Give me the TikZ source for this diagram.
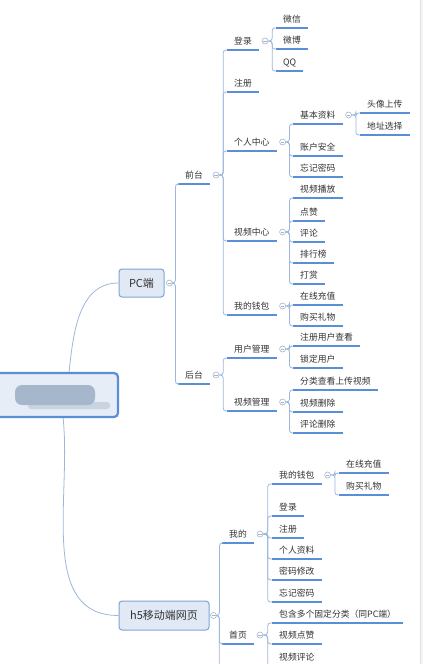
\documentclass[tikz,border=0pt]{standalone}
\usepackage{fontspec}
\usetikzlibrary{calc}
\newfontfamily\cjk{Noto Sans CJK SC}
\definecolor{uline}{HTML}{5A8FD8}
\definecolor{connc}{HTML}{9DB7DD}
\definecolor{txt}{HTML}{333333}
\definecolor{foldc}{HTML}{A3B5CC}
\definecolor{boxfill}{HTML}{E1E9F5}
\definecolor{boxline}{HTML}{7FA3D8}
\definecolor{rootline}{HTML}{5A8ED6}
\definecolor{rootfill}{HTML}{E6EDF7}
\definecolor{blobA}{HTML}{A6B6CB}
\definecolor{blobB}{HTML}{C9D4E2}
\tikzset{
 topic/.style={anchor=south west, inner xsep=7pt, inner ysep=0pt, text height=8pt, text depth=5pt,
   font=\cjk\fontsize{8.8}{10}\selectfont, text=txt,
   append after command={(\tikzlastnode.south west) edge[underl] (\tikzlastnode.south east)}},
 underl/.style={draw=uline, line width=1.5pt},
 fold/.style={circle, draw=foldc, fill=white, line width=0.6pt, inner sep=0pt, minimum size=6pt,
   path picture={\draw[foldc, line width=0.6pt] ([xshift=-1.6pt]path picture bounding box.center) -- ([xshift=1.6pt]path picture bounding box.center);}},
 conn/.style={draw=connc, line width=0.8pt, rounded corners=2.8pt},
 mainbox/.style={draw=boxline, fill=boxfill, rounded corners=3pt, line width=1pt,
   font=\cjk\fontsize{11}{13}\selectfont, text=txt, inner sep=0pt},
 rootbox/.style={draw=rootline, fill=rootfill, rounded corners=4pt, line width=2.2pt, inner sep=0pt},
}
\newcommand\fld[2]{\node[fold] (#1) at ([xshift=6pt,yshift=9pt]#2.south east) {};}
\newcommand\br[2]{\draw[conn] let \p1=(#1.east), \p2=(#2.south west) in (\p1) -- ({0.5*\x1+0.5*\x2},\y1) -- ({0.5*\x1+0.5*\x2},\y2) -- (\p2);}
\begin{document}
\begin{tikzpicture}[x=1pt,y=-1pt]
\fill[white] (0,0) rectangle (423,664);
\useasboundingbox (0,0) rectangle (423,664);
\fill[black!4] (420,0) rectangle (423,664);
\draw[black!12, line width=0.5pt] (420,0) -- (420,664);

% root and main boxes
\node[rootbox, minimum width=140pt, minimum height=44pt] (root) at (48,395) {};
\fill[blobB, rounded corners=3pt] (28,402) rectangle (110,409);
\fill[blobA, rounded corners=7pt] (15,385) rectangle (95,405);
\node[mainbox, minimum width=45pt, minimum height=28pt] (pc) at (141.5,283) {PC端};
\node[mainbox, minimum width=90pt, minimum height=29pt] (h5) at (164,615.5) {h5移动端网页};
\draw[connc, line width=0.8pt] ([xshift=-50pt]root.north east) to[out=84,in=180] (pc.west);
\draw[connc, line width=0.8pt] ([xshift=-56pt]root.south east) to[out=-84,in=180] (h5.west);
\node[fold] (pcc) at ([xshift=5pt]pc.east) {};
\node[fold] (h5c) at ([xshift=4pt]h5.east) {};

% PC
\node[topic] (qt) at (178,184) {前台};
\node[topic] (ht) at (178,384) {后台};
\br{pcc}{qt} \br{pcc}{ht}
\fld{qtc}{qt} \fld{htc}{ht}

\node[topic] (dl) at (227,50) {登录};
\node[topic] (zc) at (227,92) {注册};
\node[topic] (gr) at (227,151) {个人中心};
\node[topic] (sp) at (227,241) {视频中心};
\node[topic] (qb) at (227,315) {我的钱包};
\br{qtc}{dl} \br{qtc}{zc} \br{qtc}{gr} \br{qtc}{sp} \br{qtc}{qb}
\fld{dlc}{dl} \fld{grc}{gr} \fld{spc}{sp} \fld{qbc}{qb}

\node[topic] (wx) at (276,28) {微信};
\node[topic] (wb) at (276,49) {微博};
\node[topic] (qq) at (276,71) {QQ};
\br{dlc}{wx} \br{dlc}{wb} \br{dlc}{qq}

\node[topic] (jb) at (293,124) {基本资料};
\node[topic] (zh) at (293,156) {账户安全};
\node[topic] (wj) at (293,177) {忘记密码};
\br{grc}{jb} \br{grc}{zh} \br{grc}{wj}
\fld{jbc}{jb}

\node[topic] (tx) at (360,113) {头像上传};
\node[topic] (dz) at (360,135) {地址选择};
\br{jbc}{tx} \br{jbc}{dz}

\node[topic] (bf) at (293,198) {视频播放};
\node[topic] (dzan) at (293,221) {点赞};
\node[topic] (pl) at (293,242) {评论};
\node[topic] (ph) at (293,263) {排行榜};
\node[topic] (ds) at (293,284) {打赏};
\br{spc}{bf} \br{spc}{dzan} \br{spc}{pl} \br{spc}{ph} \br{spc}{ds}

\node[topic] (cz) at (293,305) {在线充值};
\node[topic] (lw) at (293,326) {购买礼物};
\br{qbc}{cz} \br{qbc}{lw}

\node[topic] (yh) at (227,358) {用户管理};
\node[topic] (sg) at (227,411) {视频管理};
\br{htc}{yh} \br{htc}{sg}
\fld{yhc}{yh} \fld{sgc}{sg}

\node[topic] (zcck) at (293,346) {注册用户查看};
\node[topic] (sd) at (293,368) {锁定用户};
\br{yhc}{zcck} \br{yhc}{sd}

\node[topic] (fl) at (293,390) {分类查看上传视频};
\node[topic] (sc) at (293,412) {视频删除};
\node[topic] (plsc) at (293,433) {评论删除};
\br{sgc}{fl} \br{sgc}{sc} \br{sgc}{plsc}

% h5
\node[topic] (wd) at (222,543) {我的};
\node[topic] (sy) at (222,644) {首页};
\node[inner sep=0pt, minimum size=0pt] (h5more) at (222,720) {};
\br{h5c}{wd} \br{h5c}{sy} \br{h5c}{h5more}
\fld{wdc}{wd} \fld{syc}{sy}

\node[topic] (hqb) at (272,484) {我的钱包};
\node[topic] (hdl) at (272,516) {登录};
\node[topic] (hzc) at (272,538) {注册};
\node[topic] (hgr) at (272,559) {个人资料};
\node[topic] (hmm) at (272,580) {密码修改};
\node[topic] (hwj) at (272,602) {忘记密码};
\br{wdc}{hqb} \br{wdc}{hdl} \br{wdc}{hzc} \br{wdc}{hgr} \br{wdc}{hmm} \br{wdc}{hwj}
\fld{hqbc}{hqb}

\node[topic] (hcz) at (339,473) {在线充值};
\node[topic] (hlw) at (339,495) {购买礼物};
\br{hqbc}{hcz} \br{hqbc}{hlw}

\node[topic] (bh) at (272,623) {包含多个固定分类（同PC端）};
\node[topic] (hdz) at (272,644) {视频点赞};
\node[topic] (hpl) at (272,666) {视频评论};
\br{syc}{bh} \br{syc}{hdz} \br{syc}{hpl}
\end{tikzpicture}
\end{document}
